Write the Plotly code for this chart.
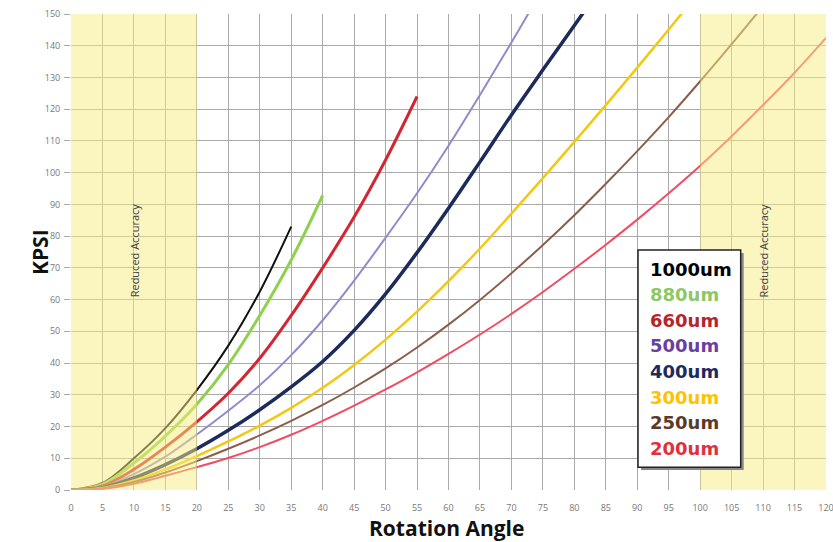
import plotly.graph_objects as go

# ---------------- data ----------------
angle_1000 = [0, 5, 10, 15, 20, 25, 30, 35]
kpsi_1000 = [0, 2.2, 10, 19.5, 31.5, 45.5, 62.5, 83]

angle_880 = [0, 5, 10, 15, 20, 25, 30, 35, 40]
kpsi_880 = [0, 1.8, 8.5, 17, 27, 39.5, 55, 72.5, 92.8]

angle_660 = [0, 5, 10, 15, 20, 25, 30, 35, 40, 45, 50, 55]
kpsi_660 = [0, 1.3, 6.5, 13.5, 21.5, 30.5, 41.5, 55, 70, 86, 104, 124]

angle_500 = [0, 5, 10, 15, 20, 25, 30, 35, 40, 45, 50, 55, 60, 65, 70, 75]
kpsi_500 = [0, 1, 5, 10.5, 17.5, 25, 33, 42.5, 53.5, 66, 79.5, 93.5, 108.5, 124.5, 141, 158]

angle_400 = [0, 5, 10, 15, 20, 25, 30, 35, 40, 45, 50, 55, 60, 65, 70, 75, 80, 85]
kpsi_400 = [0, 0.8, 3.8, 8, 13, 18.8, 25.3, 32.5, 40.5, 50.3, 61.8, 74.8, 88.8, 103.4, 118.2, 132.4, 146.4, 160.4]

angle_300 = [0, 5, 10, 15, 20, 25, 30, 35, 40, 45, 50, 55, 60, 65, 70, 75, 80, 85, 90, 95, 100]
kpsi_300 = [0, 0.6, 3, 6.5, 10.7, 15.3, 20.3, 25.9, 32.2, 39.4, 47.4, 56.2, 65.8, 76.1, 87.1,
            98.3, 109.7, 121.3, 133.1, 145.1, 157.3]

angle_250 = [0, 5, 10, 15, 20, 25, 30, 35, 40, 45, 50, 55, 60, 65, 70, 75, 80, 85, 90, 95, 100, 105, 110]
kpsi_250 = [0, 0.5, 2.5, 5.5, 9.1, 13, 17.2, 21.8, 26.8, 32.3, 38.3, 44.9, 52.1, 59.9, 68.3,
            77.2, 86.6, 96.5, 106.8, 117.5, 128.8, 140.5, 152.5]

angle_200 = [0, 5, 10, 15, 20, 25, 30, 35, 40, 45, 50, 55, 60, 65, 70, 75, 80, 85, 90, 95, 100,
             105, 110, 115, 120]
kpsi_200 = [0, 0.4, 2, 4.5, 7.2, 10.1, 13.5, 17.4, 21.8, 26.6, 31.7, 37.1, 42.9, 49.0, 55.5,
            62.4, 69.7, 77.3, 85.2, 93.5, 102.2, 111.5, 121.3, 131.5, 142.5]

series_names = ["1000um", "880um", "660um", "500um", "400um", "300um", "250um", "200um"]
series_x = [angle_1000, angle_880, angle_660, angle_500, angle_400, angle_300, angle_250, angle_200]
series_y = [kpsi_1000, kpsi_880, kpsi_660, kpsi_500, kpsi_400, kpsi_300, kpsi_250, kpsi_200]

x_ticks = list(range(0, 121, 5))
y_ticks = list(range(0, 151, 10))
reduced_zones = [(0, 20), (100, 120)]

# ---------------- styles ----------------
line_colors = ["#111111", "#8FD14F", "#D42530", "#9488CC", "#1C2A5C", "#F2C811", "#8B5E4B", "#F04C64"]
line_widths = [2, 3, 3, 2, 3.5, 2.5, 2, 2]
legend_colors = ["#000000", "#8CC865", "#B3262E", "#6A3FA0", "#1F2A5E", "#FFC200", "#5A3A28", "#E03040"]

fig = go.Figure()
for name, xs, ys, c, w in zip(series_names, series_x, series_y, line_colors, line_widths):
    fig.add_trace(go.Scatter(x=xs, y=ys, mode="lines", name=name,
                             line=dict(color=c, width=w, shape="spline", smoothing=1.0)))

# shaded "reduced accuracy" zones (drawn above, semi transparent)
for x0, x1 in reduced_zones:
    fig.add_shape(type="rect", xref="x", yref="y", x0=x0, x1=x1, y0=0, y1=150,
                  fillcolor="rgb(247,238,130)", opacity=0.5, line_width=0, layer="above")
    fig.add_annotation(x=(x0 + x1) / 2, y=75.5, xref="x", yref="y", text="Reduced Accuracy",
                       textangle=-90, showarrow=False,
                       font=dict(family="Open Sans", size=11, color="#444444"))

# legend box (custom)
bx0, bx1, by0, by1 = 0.751, 0.887, 0.048, 0.504
fig.add_shape(type="rect", xref="paper", yref="paper", x0=bx0 + 0.004, x1=bx1 + 0.004,
              y0=by0 - 0.006, y1=by1 - 0.006, fillcolor="#888888", line_width=0, layer="above")
fig.add_shape(type="rect", xref="paper", yref="paper", x0=bx0, x1=bx1, y0=by0, y1=by1,
              fillcolor="white", line=dict(color="#222222", width=1.5), layer="above")
row_top = (490 - 269) / 476
row_step = 25.6 / 476
for i, (name, c) in enumerate(zip(series_names, legend_colors)):
    fig.add_annotation(x=0.764, y=row_top - i * row_step, xref="paper", yref="paper",
                       xanchor="left", yanchor="middle", text="<b>%s</b>" % name, showarrow=False,
                       font=dict(family="DejaVu Sans", size=18, color=c))

# axis titles
fig.add_annotation(x=0.498, y=-0.079, xref="paper", yref="paper", text="<b>Rotation Angle</b>",
                   showarrow=False, xanchor="center", yanchor="middle",
                   font=dict(family="Open Sans", size=21, color="#111111"))
fig.add_annotation(x=-0.041, y=0.5, xref="paper", yref="paper", text="<b>KPSI</b>",
                   showarrow=False, textangle=-90, xanchor="center", yanchor="middle",
                   font=dict(family="Open Sans", size=21, color="#111111"))

fig.update_layout(
    width=833, height=542,
    margin=dict(l=71, r=7, t=14, b=52, autoexpand=False),
    plot_bgcolor="white", paper_bgcolor="white",
    showlegend=False,
)
fig.update_xaxes(range=[0, 120], tickvals=x_ticks, showgrid=True, gridcolor="#AAAAAA", gridwidth=1,
                 zeroline=False, showline=False, ticks="", ticklabelstandoff=11,
                 ticklabeloverflow="allow",
                 tickfont=dict(family="Open Sans", size=9, color="#777777"))
fig.update_yaxes(range=[0, 150], tickvals=y_ticks, showgrid=True, gridcolor="#AAAAAA", gridwidth=1,
                 zeroline=False, showline=False, ticks="outside", ticklen=6, tickcolor="#AAAAAA",
                 ticklabelstandoff=2,
                 tickfont=dict(family="Open Sans", size=9, color="#777777"))

fig.write_html("out.html", config={"displayModeBar": False},
               post_script="document.body.style.margin='0px';document.body.style.overflow='hidden';")
